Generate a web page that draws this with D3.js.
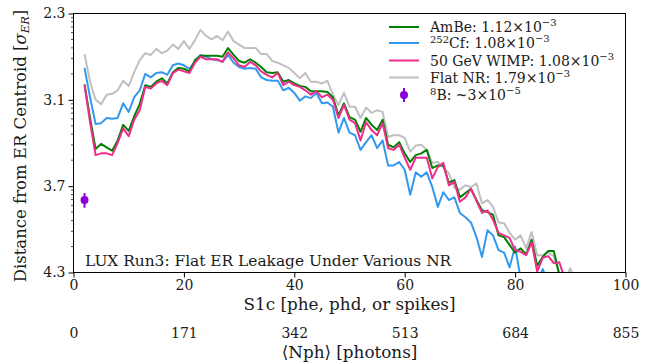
<!DOCTYPE html>
<html><head><meta charset="utf-8">
<script src="https://cdn.jsdelivr.net/npm/d3@7"></script>
<style>
body{margin:0;background:#fff}
svg{display:block}
text{font-family:"DejaVu Serif",serif;fill:#1a1a1a}
</style>
</head><body>
<svg id="chart" width="660" height="362"></svg>
<script>
// S1c bin centres [phe]
const s1c = [2,3,4,5,6,7,8,9,10,11,12,13,14,15,16,17,18,19,20,21,22,23,24,25,26,27,28,29,30,31,
  32,33,34,35,36,37,38,39,40,41,42,43,44,45,46,47,48,49,50,51,52,53,54,55,56,57,58,59,60,61,
  62,63,64,65,66,67,68,69,70,71,72,73,74,75,76,77,78,79,80,81,82,83,84,85,86,87,88,89,90,91];

// log10(ER leakage fraction) per S1c bin
const amBe = [-2.82,-3.21,-3.57,-3.51,-3.55,-3.59,-3.47,-3.29,-3.36,-3.19,
  -3.05,-2.83,-2.85,-2.79,-2.75,-2.81,-2.68,-2.63,-2.64,-2.67,
  -2.54,-2.49,-2.49,-2.49,-2.49,-2.50,-2.40,-2.48,-2.55,-2.57,
  -2.53,-2.57,-2.62,-2.68,-2.69,-2.68,-2.79,-2.77,-2.81,-2.84,
  -2.85,-2.90,-2.90,-2.90,-2.91,-2.97,-3.18,-3.04,-3.20,-3.23,
  -3.37,-3.21,-3.29,-3.35,-3.23,-3.52,-3.55,-3.49,-3.62,-3.72,
  -3.64,-3.62,-3.58,-3.79,-3.76,-3.76,-3.96,-3.93,-4.13,-4.08,
  -4.03,-4.16,-4.28,-4.30,-4.33,-4.57,-4.59,-4.68,-4.77,-4.72,
  -4.79,-4.62,-4.92,-4.82,-4.75,-4.75,-5.02];
const cf252 = [-2.63,-2.97,-3.28,-3.27,-3.21,-3.22,-3.21,-3.04,-3.14,-2.97,
  -2.89,-2.70,-2.74,-2.69,-2.68,-2.71,-2.60,-2.58,-2.60,-2.64,
  -2.56,-2.48,-2.50,-2.53,-2.54,-2.56,-2.48,-2.57,-2.62,-2.64,
  -2.63,-2.64,-2.74,-2.77,-2.78,-2.78,-2.89,-2.86,-2.92,-3.01,
  -2.96,-2.98,-2.92,-3.04,-3.03,-3.08,-3.38,-3.21,-3.38,-3.41,
  -3.58,-3.49,-3.41,-3.56,-3.47,-3.76,-3.76,-3.72,-3.81,-4.10,
  -3.84,-3.89,-3.84,-4.01,-4.24,-4.07,-4.16,-4.13,-4.31,-4.36,
  -4.42,-4.59,-4.82,-4.51,-4.57,-4.74,-4.77,-4.94,-4.70,-5.07,
  null,null,-5.14,-4.96,-5.11];
const wimp50 = [-2.83,-3.26,-3.64,-3.62,-3.62,-3.64,-3.50,-3.33,-3.42,-3.23,
  -3.12,-2.85,-2.87,-2.81,-2.78,-2.83,-2.69,-2.65,-2.67,-2.69,
  -2.57,-2.50,-2.53,-2.53,-2.53,-2.56,-2.45,-2.52,-2.60,-2.62,
  -2.56,-2.60,-2.67,-2.71,-2.74,-2.69,-2.83,-2.79,-2.83,-2.85,
  -2.89,-2.94,-2.90,-2.97,-2.94,-3.00,-3.21,-3.06,-3.23,-3.27,
  -3.47,-3.26,-3.35,-3.41,-3.27,-3.56,-3.58,-3.52,-3.67,-3.81,
  -3.67,-3.67,-3.67,-3.91,-3.78,-3.73,-3.99,-3.95,-4.18,-4.13,
  -4.03,-4.17,-4.31,-4.28,-4.39,-4.54,-4.57,-4.60,-4.74,-4.76,
  -4.80,-4.65,-4.99,-4.83,-4.81,-4.89,-4.88,-5.07];
const flatNR = [-2.47,-2.79,-3.00,-3.05,-2.94,-2.93,-2.89,-2.78,-2.84,-2.68,
  -2.54,-2.46,-2.48,-2.41,-2.46,-2.43,-2.36,-2.41,-2.32,-2.41,
  -2.31,-2.19,-2.26,-2.30,-2.26,-2.31,-2.21,-2.32,-2.36,-2.40,
  -2.40,-2.40,-2.47,-2.47,-2.55,-2.57,-2.60,-2.63,-2.69,-2.75,
  -2.69,-2.79,-2.79,-2.81,-2.78,-2.94,-3.06,-2.92,-3.08,-3.08,
  -3.21,-3.09,-3.15,-3.12,-3.14,-3.43,-3.41,-3.41,-3.44,-3.60,
  -3.53,-3.52,-3.58,-3.73,-3.72,-3.78,-3.85,-4.02,-4.04,-3.99,
  -4.01,-3.97,-4.20,-4.16,-4.24,-4.42,-4.43,-4.54,-4.62,-4.57,
  -4.72,-4.53,-4.80,-4.80,-4.77,-4.81,-5.02,-5.09,-4.95,-5.14];

// 8B point: S1c, log10 leakage centre, low, high
const b8S1c = [2];
const b8Val = [-4.16];
const b8Lo = [-4.25];
const b8Hi = [-4.08];

// axes
const xTicks = [0,20,40,60,80,100];
const nphTicks = [0,171,342,513,684,855];
const yTickVals = [-2,-3,-4,-5];
const yTickLabels = ["2.3","3.1","3.7","4.3"];

const seriesNames = ["AmBe","Cf","WIMP","Flat"];
const seriesColors = ["#008000","#3399ee","#ee2d8c","#c0c0c0"];
const b8Color = "#8a00d4";

const svg = d3.select("#chart");
const L = 73.5, R = 625.5, T = 13.5, B = 272.5;
const x = d3.scaleLinear().domain([0,100]).range([L,R]);
const xN = d3.scaleLinear().domain([0,855]).range([L,R]);
const y = d3.scaleLinear().domain([-2,-5]).range([T,B]);

svg.append("defs").append("clipPath").attr("id","clip")
  .append("rect").attr("x",L).attr("y",T).attr("width",R-L).attr("height",B-T);

// lines
const lineGen = d3.line().defined(d => d[1] !== null).x(d => x(d[0])).y(d => y(d[1]));
const allSeries = [flatNR, cf252, amBe, wimp50];
const allColors = [seriesColors[3], seriesColors[1], seriesColors[0], seriesColors[2]];
const g = svg.append("g").attr("clip-path","url(#clip)");
allSeries.forEach((vals,i) => {
  const pts = vals.map((v,j) => [s1c[j], v]);
  g.append("path").attr("d", lineGen(pts)).attr("fill","none")
    .attr("stroke", allColors[i]).attr("stroke-width",2).attr("stroke-linejoin","round");
});

// 8B point
b8S1c.forEach((s,i) => {
  svg.append("line").attr("x1",x(s)).attr("x2",x(s)).attr("y1",y(b8Lo[i])).attr("y2",y(b8Hi[i]))
    .attr("stroke",b8Color).attr("stroke-width",2);
  svg.append("circle").attr("cx",x(s)).attr("cy",y(b8Val[i])).attr("r",4).attr("fill",b8Color);
});

// frame
svg.append("rect").attr("x",L).attr("y",T).attr("width",R-L).attr("height",B-T)
  .attr("fill","none").attr("stroke","#000").attr("stroke-width",1);

// x axis
const xAx = svg.append("g").attr("transform",`translate(0,${B})`)
  .call(d3.axisBottom(x).tickValues(xTicks).tickSize(5).tickPadding(3).tickFormat(d3.format("d")));
xAx.select(".domain").remove();
xAx.selectAll("text").attr("font-size",14).attr("font-family","DejaVu Serif").attr("fill","#1a1a1a");

// Nph axis (text only)
const nAx = svg.append("g").attr("transform",`translate(0,${B+53})`)
  .call(d3.axisBottom(xN).tickValues(nphTicks).tickSize(0).tickPadding(3).tickFormat(d3.format("d")));
nAx.select(".domain").remove();
nAx.selectAll("text").attr("font-size",14).attr("font-family","DejaVu Serif").attr("fill","#1a1a1a");

// y axis
const yAx = svg.append("g").attr("transform",`translate(${L},0)`)
  .call(d3.axisLeft(y).tickValues(yTickVals).tickSize(5).tickPadding(3)
    .tickFormat((d,i) => yTickLabels[i]));
yAx.select(".domain").remove();
yAx.selectAll("text").attr("font-size",14).attr("font-family","DejaVu Serif").attr("fill","#1a1a1a");
// log minor ticks
const minor = [];
[-3,-4,-5].forEach(n => { for (let k=2;k<=9;k++) minor.push(Math.log10(k)+n); });
svg.append("g").selectAll("line").data(minor).join("line")
  .attr("x1",L-2.5).attr("x2",L).attr("y1",d=>y(d)).attr("y2",d=>y(d))
  .attr("stroke","#000").attr("stroke-width",0.7);

// axis labels
svg.append("text").attr("x",(L+R)/2).attr("y",310).attr("text-anchor","middle")
  .attr("font-size",16.8).text("S1c [phe, phd, or spikes]");
svg.append("text").attr("x",(L+R)/2).attr("y",358).attr("text-anchor","middle")
  .attr("font-size",16.8).text("\u27E8Nph\u27E9 [photons]");
const yl = svg.append("text").attr("transform","translate(26,146) rotate(-90)")
  .attr("text-anchor","middle").attr("font-size",16.5);
yl.append("tspan").text("Distance from ER Centroid [");
yl.append("tspan").attr("font-style","italic").text("\u03C3");
yl.append("tspan").attr("font-style","italic").attr("font-size",11.5).attr("dy",3).text("ER");
yl.append("tspan").attr("dy",-3).text("]");

// title text
svg.append("text").attr("x",85).attr("y",266).attr("font-size",15.4)
  .text("LUX Run3: Flat ER Leakage Under Various NR");

// legend
const legendRows = [
  {pre:"", main:"AmBe: 1.12\u00D710", exp:"\u22123", color:seriesColors[0], cy:27},
  {pre:"252", main:"Cf: 1.08\u00D710", exp:"\u22123", color:seriesColors[1], cy:43},
  {pre:"", main:"50 GeV WIMP: 1.08\u00D710", exp:"\u22123", color:seriesColors[2], cy:60.5},
  {pre:"", main:"Flat NR: 1.79\u00D710", exp:"\u22123", color:seriesColors[3], cy:77.5},
  {pre:"8", main:"B: ~3\u00D710", exp:"\u22125", color:b8Color, cy:95, point:true}
];
legendRows.forEach(r => {
  if (r.point) {
    svg.append("line").attr("x1",404).attr("x2",404).attr("y1",r.cy-7).attr("y2",r.cy+7)
      .attr("stroke",r.color).attr("stroke-width",2);
    svg.append("circle").attr("cx",404).attr("cy",r.cy).attr("r",4).attr("fill",r.color);
  } else {
    svg.append("line").attr("x1",389).attr("x2",419).attr("y1",r.cy).attr("y2",r.cy)
      .attr("stroke",r.color).attr("stroke-width",2);
  }
  const t = svg.append("text").attr("x",430).attr("y",r.cy+5).attr("font-size",14);
  if (r.pre) {
    t.append("tspan").attr("font-size",10).attr("dy",-5).text(r.pre);
    t.append("tspan").attr("dy",5).text(r.main);
  } else {
    t.append("tspan").text(r.main);
  }
  t.append("tspan").attr("font-size",10).attr("dy",-6).text(r.exp);
});
</script>
</body></html>
